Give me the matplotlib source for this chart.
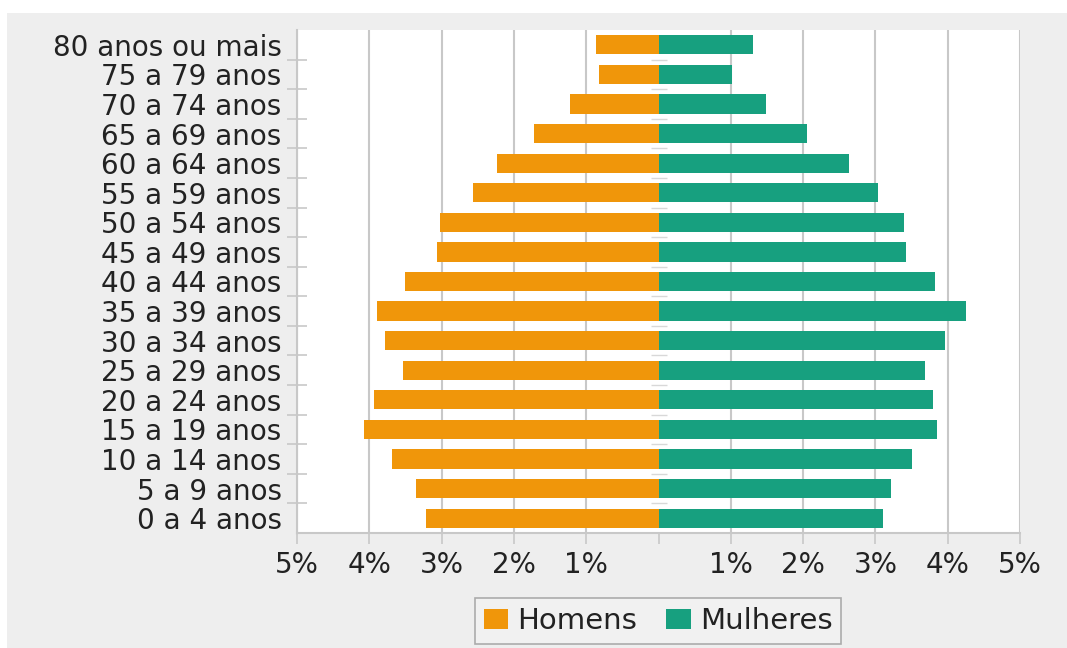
import numpy as np
import matplotlib.pyplot as plt
from matplotlib.patches import Rectangle, Patch

# Age groups, youngest first (drawn bottom to top)
faixas = ["0 a 4 anos", "5 a 9 anos", "10 a 14 anos", "15 a 19 anos",
          "20 a 24 anos", "25 a 29 anos", "30 a 34 anos", "35 a 39 anos",
          "40 a 44 anos", "45 a 49 anos", "50 a 54 anos", "55 a 59 anos",
          "60 a 64 anos", "65 a 69 anos", "70 a 74 anos", "75 a 79 anos",
          "80 anos ou mais"]

# Share of total population (%)
homens = [3.22, 3.35, 3.68, 4.08, 3.93, 3.53, 3.78, 3.89, 3.50, 3.07,
          3.02, 2.57, 2.24, 1.72, 1.23, 0.82, 0.86]
mulheres = [3.10, 3.22, 3.50, 3.85, 3.80, 3.69, 3.96, 4.25, 3.82, 3.43,
            3.40, 3.04, 2.63, 2.05, 1.49, 1.02, 1.31]

x_ticks = [-5, -4, -3, -2, -1, 0, 1, 2, 3, 4, 5]
x_labels = ["5%", "4%", "3%", "2%", "1%", "", "1%", "2%", "3%", "4%", "5%"]

cor_h = "#f0960a"
cor_m = "#17a07f"
fundo = "#eeeeee"
grade = "#c8c8c8"
texto = "#222222"

plt.rcParams["font.family"] = ["DejaVu Sans"]

fig = plt.figure(figsize=(10.67, 6.48), dpi=100, facecolor="white")
# gray panel behind everything, leaving a thin white margin top/left
fig.patches.append(Rectangle((7 / 1067, 0), 1, 1 - 13 / 648,
                             transform=fig.transFigure, facecolor=fundo,
                             edgecolor="none", zorder=-1))

ax = fig.add_axes([297 / 1067, 1 - 533 / 648, 723 / 1067, 503 / 648])
ax.set_facecolor("white")

y = np.arange(len(faixas))
ax.barh(y, -np.array(homens), height=0.65, color=cor_h, label="Homens", zorder=2)
ax.barh(y, mulheres, height=0.65, color=cor_m, label="Mulheres", zorder=2)

ax.set_xlim(-5, 5)
ax.set_ylim(-0.5, len(faixas) - 0.5)

ax.set_xticks(x_ticks)
ax.set_xticklabels(x_labels)
ax.set_yticks(y)
ax.set_yticklabels(faixas)
ax.set_yticks(y[:-1] + 0.5, minor=True)

ax.tick_params(axis="x", length=8, width=1.2, color=grade, pad=5,
               labelsize=20, labelcolor=texto)
ax.tick_params(axis="y", which="major", length=0, pad=11,
               labelsize=20, labelcolor=texto)
ax.tick_params(axis="y", which="minor", length=14, width=1.2,
               direction="inout", color=grade)

ax.grid(axis="x", color=grade, linewidth=1.5, zorder=0)
ax.set_axisbelow(True)
for t, line in zip(x_ticks, ax.get_xgridlines()):
    if t == 0:
        line.set_visible(False)

for side in ["top", "right"]:
    ax.spines[side].set_visible(False)
for side in ["left", "bottom"]:
    ax.spines[side].set_color(grade)
    ax.spines[side].set_linewidth(1.5)

# small separators along the centre line
meio = ax.secondary_yaxis(0.5)
meio.set_yticks(y[:-1] + 0.5)
meio.set_yticklabels([])
meio.tick_params(axis="y", length=12, width=1.0, direction="inout",
                 color="#d8d8d8")
meio.spines["left"].set_visible(False)
meio.spines["right"].set_visible(False)

handles = [Patch(facecolor=cor_h, label="Homens"),
           Patch(facecolor=cor_m, label="Mulheres")]
leg = fig.legend(handles=handles, loc="center",
                 bbox_to_anchor=(658 / 1067, 1 - 621 / 648), ncol=2,
                 fontsize=21, frameon=True, fancybox=False,
                 handlelength=0.85, handleheight=0.7, handletextpad=0.3,
                 columnspacing=1.0, borderpad=0.3, borderaxespad=0,
                 labelcolor=texto)
leg.get_frame().set_edgecolor("#9a9a9a")
leg.get_frame().set_facecolor("#f2f2f2")
leg.get_frame().set_linewidth(1.2)

fig.savefig("out.png", dpi=100, facecolor=fig.get_facecolor())
